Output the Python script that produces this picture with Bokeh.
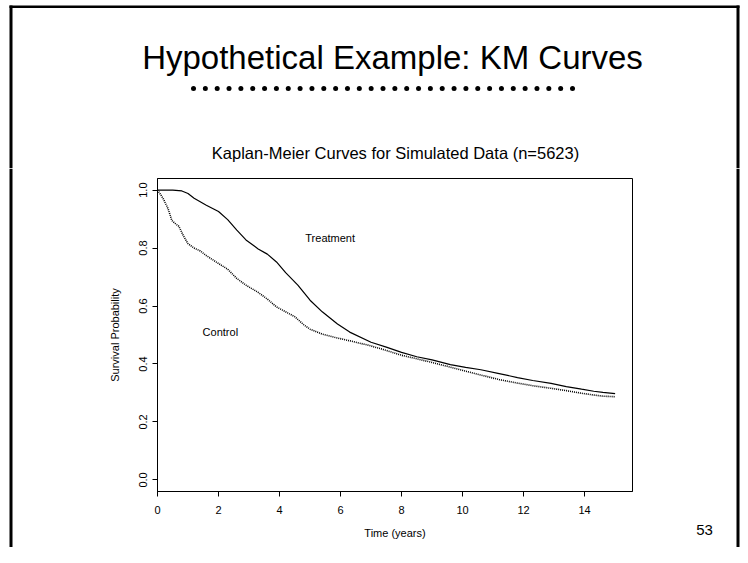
import numpy as np
from bokeh.plotting import figure
from bokeh.layouts import column, row
from bokeh.models import Range1d, FixedTicker, Label
from bokeh.embed import file_html
from bokeh.resources import INLINE

# ---- data ----
treat_time = [0.0, 0.5, 0.8, 1.0, 1.2, 1.6, 2.0, 2.3, 2.6, 2.9, 3.3, 3.6, 3.9, 4.2, 4.6,
              5.0, 5.4, 5.9, 6.3, 7.0, 7.5, 8.0, 8.5, 9.0, 9.6, 10.1, 10.6, 11.2, 11.8,
              12.3, 12.9, 13.4, 13.9, 14.3, 14.6, 15.0]
treat_surv = [1.0, 1.0, 0.997, 0.988, 0.972, 0.948, 0.926, 0.898, 0.862, 0.828, 0.797, 0.779,
              0.752, 0.715, 0.672, 0.620, 0.580, 0.538, 0.510, 0.475, 0.458, 0.440, 0.425,
              0.414, 0.398, 0.388, 0.380, 0.367, 0.353, 0.343, 0.333, 0.322, 0.313, 0.306,
              0.302, 0.298]
ctrl_time = [0.0, 0.1, 0.2, 0.35, 0.47, 0.6, 0.7, 0.85, 1.0, 1.2, 1.4, 1.6, 1.95, 2.3, 2.6,
             2.9, 3.3, 3.6, 3.9, 4.2, 4.5, 4.8, 5.0, 5.4, 5.8, 6.3, 6.9, 7.4, 8.0, 8.5, 9.0,
             9.5, 10.1, 10.6, 11.2, 11.8, 12.3, 12.9, 13.4, 13.9, 14.3, 14.6, 15.0]
ctrl_surv = [1.0, 0.985, 0.968, 0.935, 0.895, 0.883, 0.875, 0.842, 0.815, 0.800, 0.790, 0.774,
             0.750, 0.727, 0.695, 0.672, 0.647, 0.624, 0.597, 0.580, 0.563, 0.535, 0.520,
             0.503, 0.492, 0.480, 0.465, 0.450, 0.430, 0.418, 0.405, 0.392, 0.375, 0.362,
             0.346, 0.334, 0.325, 0.316, 0.308, 0.299, 0.293, 0.289, 0.287]
x_ticks = [0, 2, 4, 6, 8, 10, 12, 14]
y_ticks = [0.0, 0.2, 0.4, 0.6, 0.8, 1.0]
y_tick_labels = ["0.0", "0.2", "0.4", "0.6", "0.8", "1.0"]

slide_title = "Hypothetical Example: KM Curves"
plot_title = "Kaplan-Meier Curves for Simulated Data (n=5623)"
x_label = "Time (years)"
y_label = "Survival Probability"
page_number = "53"
n_dots = 33

# ---- page geometry (pixels) ----
W, H = 740, 547
TOP_H = 168                 # height of the slide-header strip
BODY_H = H - TOP_H
PAD_L, BORDER_W = 9, 3      # white gap and border line at the left edge
LEFT_W = 40                 # width of the left strip beside the chart
FL, FT, FR, FB = 157, 178, 632, 491   # chart frame edges in page pixels
CHART_R = 640               # right edge of the chart figure
FONT = "Liberation Sans"
BORDER = "black"


def blank(width, height, x_left, y_top):
    """A figure whose frame fills it, with page-pixel ranges (y grows downward)."""
    f = figure(width=width, height=height, output_backend="svg", toolbar_location=None,
               title=None, x_axis_location=None, y_axis_location=None, min_border=0,
               x_range=Range1d(x_left, x_left + width), y_range=Range1d(y_top + height, y_top))
    f.outline_line_color = None
    f.grid.visible = False
    f.background_fill_color = "white"
    f.border_fill_color = "white"
    return f


# ---- header strip: slide title, dotted rule, chart title, borders ----
top = blank(W, TOP_H, 0, 0)
top.add_layout(Label(x=392, y=57, text=slide_title, text_align="center", text_baseline="middle",
                     text_font=FONT, text_font_size="33px", text_color="black"))
top.scatter(np.linspace(193, 572, n_dots), [88] * n_dots, size=5, marker="circle",
            fill_color="black", line_color=None)
top.add_layout(Label(x=395, y=152, text=plot_title, text_align="center", text_baseline="middle",
                     text_font=FONT, text_font_size="16.5px", text_color="black"))
top.quad(left=[PAD_L], right=[W - 1], top=[5], bottom=[7.5], fill_color=BORDER, line_color=None)
top.quad(left=[PAD_L], right=[PAD_L + BORDER_W], top=[5], bottom=[TOP_H],
         fill_color=BORDER, line_color=None)
top.quad(left=[W - BORDER_W - 1], right=[W - 1], top=[5], bottom=[TOP_H],
         fill_color=BORDER, line_color=None)

# ---- left strip: slide border ----
left = blank(LEFT_W, BODY_H, 0, TOP_H)
left.quad(left=[PAD_L], right=[PAD_L + BORDER_W], top=[TOP_H], bottom=[H],
          fill_color=BORDER, line_color=None)

# ---- right strip: page number and slide border ----
right = blank(W - CHART_R, BODY_H, CHART_R, TOP_H)
right.add_layout(Label(x=704, y=529, text=page_number, text_align="center", text_baseline="middle",
                       text_font=FONT, text_font_size="15px", text_color="black"))
right.quad(left=[W - BORDER_W - 1], right=[W - 1], top=[TOP_H], bottom=[H],
           fill_color=BORDER, line_color=None)

# ---- the Kaplan-Meier chart ----
p = figure(width=CHART_R - LEFT_W, height=BODY_H, output_backend="svg", toolbar_location=None,
           x_range=Range1d(0.0, 15.57), y_range=Range1d(-0.04, 1.04),
           min_border_left=FL - LEFT_W, min_border_right=CHART_R - FR,
           min_border_top=FT - TOP_H, min_border_bottom=H - FB)
p.title = None
p.background_fill_color = "white"
p.border_fill_color = "white"
p.outline_line_color = "black"
p.outline_line_width = 1
p.grid.visible = False

for ax in (p.xaxis[0], p.yaxis[0]):
    ax.axis_line_color = "black"
    ax.axis_line_width = 1
    ax.major_tick_in = 0
    ax.major_tick_out = 5
    ax.major_tick_line_color = "black"
    ax.minor_tick_line_color = None
    ax.major_label_text_font = FONT
    ax.major_label_text_font_size = "11px"
    ax.major_label_text_color = "black"
    ax.axis_label_text_font = FONT
    ax.axis_label_text_font_size = "11px"
    ax.axis_label_text_font_style = "normal"
    ax.axis_label_text_color = "black"

p.xaxis.ticker = FixedTicker(ticks=x_ticks)
p.yaxis.ticker = FixedTicker(ticks=y_ticks)
p.yaxis.major_label_overrides = {t: l for t, l in zip(y_ticks, y_tick_labels)}
p.yaxis.major_label_orientation = "vertical"
p.xaxis.major_label_standoff = 9
p.yaxis.major_label_standoff = 5
p.xaxis.axis_label = x_label
p.yaxis.axis_label = y_label
p.xaxis.axis_label_standoff = 10
p.yaxis.axis_label_standoff = 16

p.line(treat_time, treat_surv, line_color="black", line_width=1.2)
p.line(ctrl_time, ctrl_surv, line_color="black", line_width=1.6, line_dash="1 1")

p.add_layout(Label(x=5.66, y=0.835, text="Treatment", text_align="center", text_baseline="middle",
                   text_font=FONT, text_font_size="11px", text_color="black"))
p.add_layout(Label(x=2.06, y=0.511, text="Control", text_align="center", text_baseline="middle",
                   text_font=FONT, text_font_size="11px", text_color="black"))

page = column(top, row(column(left), p, column(right)))
open("out.html", "w").write(file_html(page, INLINE))
